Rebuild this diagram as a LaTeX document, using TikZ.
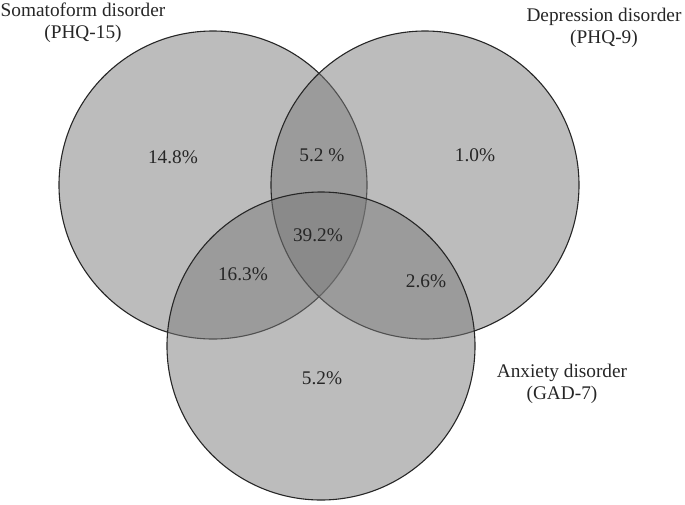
\documentclass[tikz,border=0pt]{standalone}
\usepackage{fontspec}
\setmainfont{Liberation Serif}
\begin{document}
\begin{tikzpicture}[x=1pt,y=-1pt,
  setc/.style={draw=black!85, line width=1.1pt, fill=black!52, fill opacity=0.5},
  lab/.style={font=\fontsize{19.3}{22}\selectfont, text=black!85, inner sep=0pt, align=center},
  pct/.style={font=\fontsize{19.3}{22}\selectfont, text=black!85, inner sep=0pt}]
\useasboundingbox (0,0) rectangle (685,504);
\path[setc] (213,185) circle (154);
\path[setc] (425,185) circle (154);
\path[setc] (321,346) circle (154);
\node[lab] (som) at (83,23) {Somatoform disorder\\(PHQ-15)};
\node[lab] (dep) at (604,28) {Depression disorder\\(PHQ-9)};
\node[lab] (anx) at (562,384) {Anxiety disorder\\(GAD-7)};
\node[pct] (a) at (173,157) {14.8\%};
\node[pct] (b) at (322,155) {5.2 \%};
\node[pct] (c) at (475,155) {1.0\%};
\node[pct] (d) at (318,235) {39.2\%};
\node[pct] (e) at (243,274) {16.3\%};
\node[pct] (f) at (426,281) {2.6\%};
\node[pct] (g) at (322,378) {5.2\%};
\end{tikzpicture}
\end{document}
